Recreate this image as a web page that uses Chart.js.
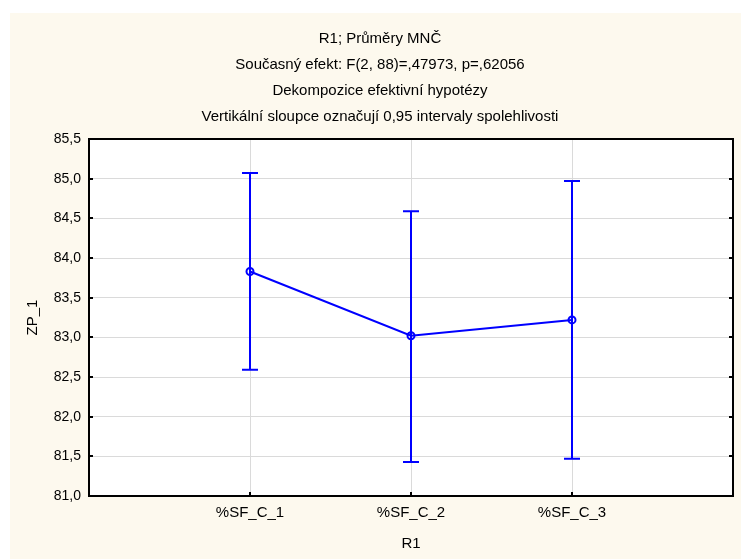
<!DOCTYPE html>
<html>
<head>
<meta charset="utf-8">
<script src="https://cdn.jsdelivr.net/npm/chart.js@4"></script>
<style>
  html, body { margin: 0; padding: 0; background: #ffffff; }
  #wrap { width: 741px; height: 559px; }
</style>
</head>
<body>
<div id="wrap"><canvas id="chart" width="741" height="559"></canvas></div>
<script>
const titleLines = [
    'R1; Průměry MNČ',
    'Současný efekt: F(2, 88)=,47973, p=,62056',
    'Dekompozice efektivní hypotézy',
    'Vertikální sloupce označují 0,95 intervaly spolehlivosti'
];
const categories = ['%SF_C_1', '%SF_C_2', '%SF_C_3'];
const means = [83.83, 83.02, 83.22];
const upper = [85.07, 84.59, 84.97];
const lower = [82.59, 81.43, 81.47];
const yTicks = [81.0, 81.5, 82.0, 82.5, 83.0, 83.5, 84.0, 84.5, 85.0, 85.5];

const blue = '#0000ff';
const fontFamily = '"Liberation Sans", Arial, sans-serif';

// cream window + white plot area + frame + inward tick marks
const frame = {
    id: 'frame',
    beforeDraw(chart) {
        const ctx = chart.ctx;
        const a = chart.chartArea;
        ctx.save();
        ctx.fillStyle = '#fdf9ee';
        ctx.fillRect(10, 13, chart.width - 10, chart.height - 13);
        ctx.fillStyle = '#ffffff';
        ctx.fillRect(a.left, a.top, a.right - a.left, a.bottom - a.top);
        ctx.restore();
    },
    afterDraw(chart) {
        const ctx = chart.ctx;
        const a = chart.chartArea;
        const x = chart.scales.x;
        const y = chart.scales.y;
        ctx.save();
        ctx.strokeStyle = '#000000';
        ctx.lineWidth = 2;
        ctx.strokeRect(a.left, a.top, a.right - a.left, a.bottom - a.top);
        ctx.beginPath();
        y.ticks.forEach(t => {
            const py = Math.round(y.getPixelForValue(t.value));
            ctx.moveTo(a.left, py);
            ctx.lineTo(a.left + 4, py);
            ctx.moveTo(a.right, py);
            ctx.lineTo(a.right - 4, py);
        });
        x.ticks.forEach(t => {
            const px = Math.round(x.getPixelForValue(t.value));
            ctx.moveTo(px, a.bottom);
            ctx.lineTo(px, a.bottom - 4);
        });
        ctx.stroke();
        ctx.restore();
    }
};

const errorBars = {
    id: 'errorBars',
    beforeDatasetsDraw(chart) {
        const ctx = chart.ctx;
        const x = chart.scales.x;
        const y = chart.scales.y;
        ctx.save();
        ctx.strokeStyle = blue;
        ctx.lineWidth = 2;
        ctx.beginPath();
        means.forEach((m, i) => {
            const px = Math.round(x.getPixelForValue(i + 1));
            const top = y.getPixelForValue(upper[i]);
            const bot = y.getPixelForValue(lower[i]);
            ctx.moveTo(px, top);
            ctx.lineTo(px, bot);
            ctx.moveTo(px - 8, top);
            ctx.lineTo(px + 8, top);
            ctx.moveTo(px - 8, bot);
            ctx.lineTo(px + 8, bot);
        });
        ctx.stroke();
        ctx.restore();
    }
};

new Chart(document.getElementById('chart'), {
    type: 'line',
    data: {
        datasets: [{
            data: means.map((m, i) => ({ x: i + 1, y: m })),
            borderColor: blue,
            borderWidth: 2,
            pointRadius: 3.5,
            pointBorderWidth: 2,
            pointBorderColor: blue,
            pointBackgroundColor: 'rgba(255,255,255,0)',
            tension: 0
        }]
    },
    options: {
        responsive: false,
        animation: false,
        layout: { padding: { left: 27, right: 8, top: 13, bottom: 0 } },
        plugins: {
            legend: { display: false },
            tooltip: { enabled: false },
            title: {
                display: true,
                text: titleLines,
                color: '#000000',
                font: { family: fontFamily, size: 15, weight: 'normal', lineHeight: '26px' },
                padding: { top: 13, bottom: 9 }
            }
        },
        scales: {
            x: {
                type: 'linear',
                min: 0,
                max: 4,
                afterBuildTicks(scale) {
                    scale.ticks = categories.map((c, i) => ({ value: i + 1 }));
                },
                afterFit(scale) { scale.height = 63; },
                grid: { color: '#dadada', lineWidth: 1, drawTicks: false },
                border: { display: false },
                ticks: {
                    padding: 8,
                    color: '#000000',
                    font: { family: fontFamily, size: 15 },
                    maxRotation: 0,
                    callback: v => categories[v - 1] || ''
                },
                title: {
                    display: true,
                    text: 'R1',
                    color: '#000000',
                    font: { family: fontFamily, size: 15 },
                    padding: { top: 0, bottom: 6 }
                }
            },
            y: {
                min: 81,
                max: 85.5,
                afterBuildTicks(scale) {
                    scale.ticks = yTicks.map(v => ({ value: v }));
                },
                afterFit(scale) { scale.width = 62; },
                grid: { color: '#dadada', lineWidth: 1, drawTicks: false },
                border: { display: false },
                ticks: {
                    padding: 8,
                    color: '#000000',
                    font: { family: fontFamily, size: 14 },
                    callback: v => v.toFixed(1).replace('.', ',')
                },
                title: {
                    display: true,
                    text: 'ZP_1',
                    color: '#000000',
                    font: { family: fontFamily, size: 15 },
                    padding: { top: -3, bottom: 0 }
                }
            }
        }
    },
    plugins: [frame, errorBars]
});
</script>
</body>
</html>
